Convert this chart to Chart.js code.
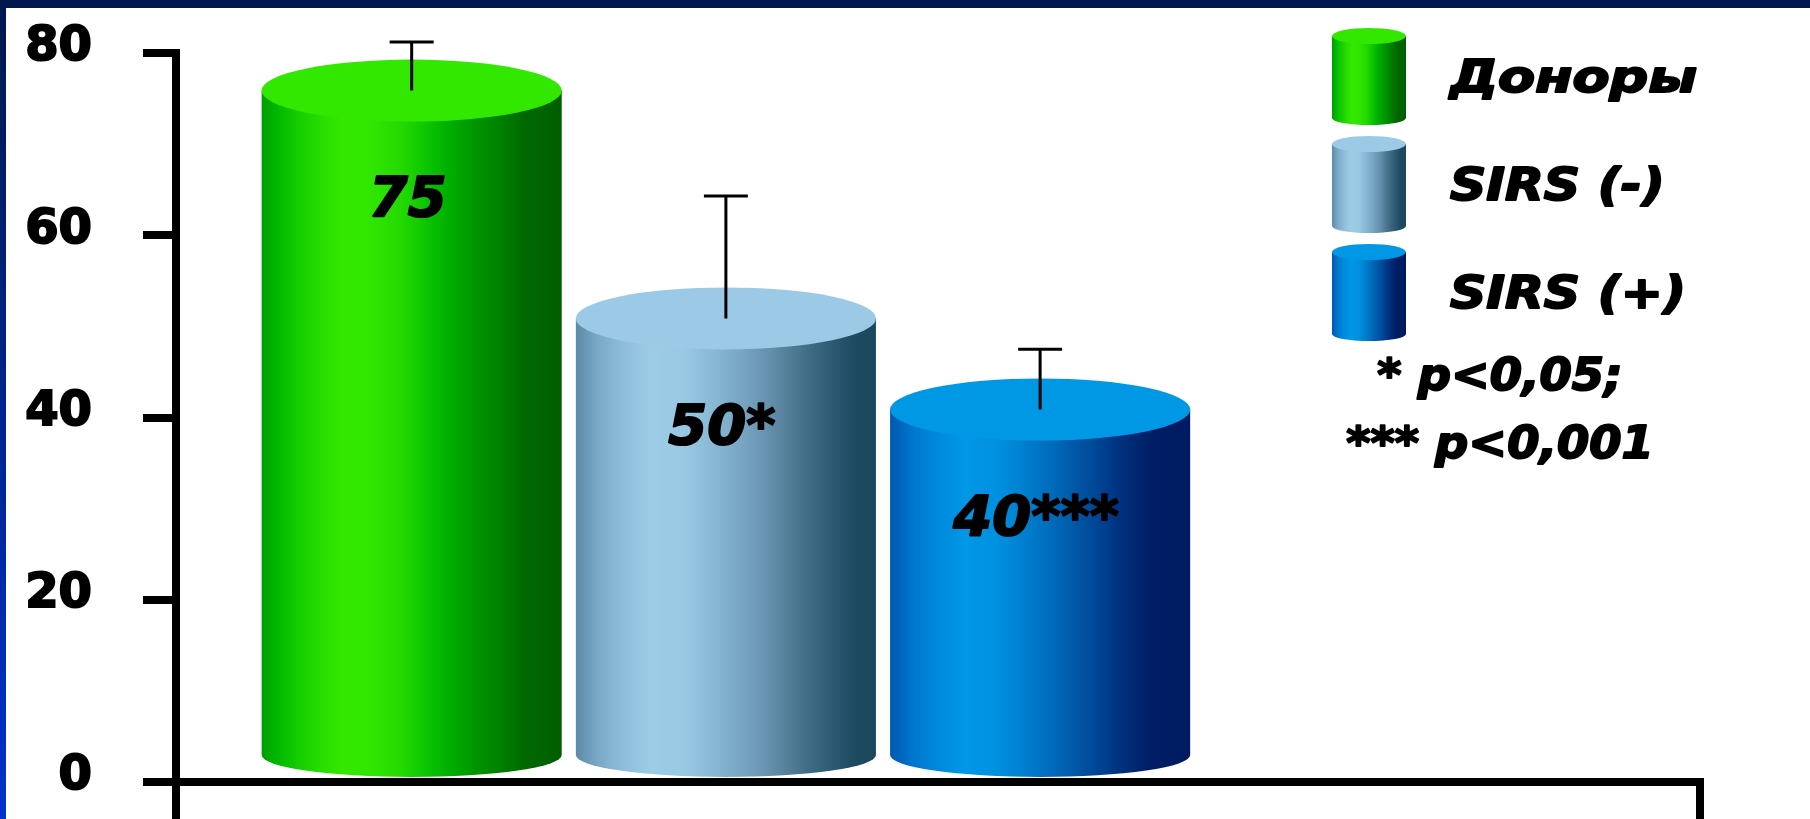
<!DOCTYPE html>
<html>
<head>
<meta charset="utf-8">
<script src="https://cdn.jsdelivr.net/npm/chart.js@4.4.0/dist/chart.umd.min.js"></script>
<style>
  html, body { margin: 0; padding: 0; background: #001a52; }
  body { width: 1810px; height: 819px; overflow: hidden; }
  #chart { display: block; }
</style>
</head>
<body>
<canvas id="chart" width="1810" height="819"></canvas>
<script>
const ctx = document.getElementById('chart').getContext('2d');

// groups and measured values
const groups = ['Доноры', 'SIRS (-)', 'SIRS (+)'];
const means = [75, 50, 40];
const errors = [6.2, 14.3, 7.5];
const valueLabels = ['75', '50*', '40***'];
const yTicks = [0, 20, 40, 60, 80];
const notes = ['* p<0,05;', '*** p<0,001'];

// side shading of each cylinder (left -> right) and colour of its lid
const sideStops = [
    [[0, '#009c00'], [0.05, '#00b800'], [0.12, '#14cc00'], [0.2, '#28de00'], [0.27, '#34e800'],
     [0.37, '#30e600'], [0.47, '#22d800'], [0.55, '#0cc400'], [0.62, '#00b000'], [0.7, '#009800'],
     [0.8, '#007e00'], [0.88, '#006800'], [1, '#005e00']],
    [[0, '#5a8aa8'], [0.07, '#78a8c6'], [0.15, '#8cbcd8'], [0.25, '#9ccce6'], [0.36, '#98c8e2'],
     [0.46, '#88b8d4'], [0.55, '#78a6c4'], [0.63, '#6894b0'], [0.71, '#527e98'], [0.79, '#3c6880'],
     [0.87, '#2a5670'], [0.93, '#1e4a60'], [1, '#1c485e']],
    [[0, '#0058b0'], [0.07, '#0074cc'], [0.15, '#0088dc'], [0.25, '#0098e6'], [0.36, '#0090e0'],
     [0.46, '#007ccc'], [0.55, '#0068b8'], [0.63, '#0054a4'], [0.71, '#004090'], [0.79, '#002c78'],
     [0.87, '#001e66'], [1, '#001a60']]
];
const lidColors = ['#33e800', '#9ccae6', '#0098e4'];

const textFont = 'italic bold 45px "DejaVu Sans"';

function drawCylinder(c, cx, w, yTop, yBot, rTop, rBot, stops, lid) {
    const left = cx - w / 2, right = cx + w / 2;
    const grad = c.createLinearGradient(left, 0, right, 0);
    stops.forEach(s => grad.addColorStop(s[0], s[1]));
    c.beginPath();
    c.moveTo(left, yTop);
    c.lineTo(left, yBot);
    c.ellipse(cx, yBot, w / 2, rBot, 0, Math.PI, 0, true);
    c.lineTo(right, yTop);
    c.closePath();
    c.fillStyle = grad;
    c.fill();
    c.beginPath();
    c.ellipse(cx, yTop, w / 2, rTop, 0, 0, Math.PI * 2);
    c.fillStyle = lid;
    c.fill();
}

// heavy (stroked) lettering, optionally stretched sideways
function heavyText(c, text, x, y, align, stretch) {
    c.save();
    c.translate(x, y);
    c.scale(stretch, 1);
    c.textAlign = align;
    c.fillStyle = '#000';
    c.strokeStyle = '#000';
    c.lineWidth = 2;
    c.lineJoin = 'round';
    c.fillText(text, 0, 0);
    c.strokeText(text, 0, 0);
    c.restore();
}

// navy slide background with the white panel
const slideBackground = {
    id: 'slideBackground',
    beforeDraw(chart) {
        const c = chart.ctx;
        const g = c.createLinearGradient(0, 0, 0, chart.height);
        g.addColorStop(0, '#00184e');
        g.addColorStop(1, '#0032cc');
        c.save();
        c.fillStyle = g;
        c.fillRect(0, 0, chart.width, chart.height);
        c.fillStyle = '#ffffff';
        c.fillRect(6, 8, chart.width - 6, chart.height - 8);
        c.restore();
    }
};

// 3D cylinders, error bars and value labels on top of the (invisible) bars
const cylinders = {
    id: 'cylinders',
    afterDatasetsDraw(chart) {
        const c = chart.ctx;
        const yScale = chart.scales.y;
        const meta = chart.getDatasetMeta(0);
        c.save();
        meta.data.forEach((bar, i) => {
            const yTop = bar.y - 8;
            const yBot = bar.base - 23;
            drawCylinder(c, bar.x, bar.width, yTop, yBot, 31, 22, sideStops[i], lidColors[i]);

            // error bar
            const yErr = yScale.getPixelForValue(means[i] + errors[i]);
            c.strokeStyle = '#000';
            c.lineWidth = 3;
            c.beginPath();
            c.moveTo(bar.x, yTop);
            c.lineTo(bar.x, yErr);
            c.moveTo(bar.x - 22, yErr);
            c.lineTo(bar.x + 22, yErr);
            c.stroke();

            // value
            c.font = 'italic bold 56px "DejaVu Sans"';
            c.textBaseline = 'middle';
            heavyText(c, valueLabels[i], bar.x - 4, bar.y + 103, 'center', 1);
        });
        c.restore();
    }
};

// axis frame below the baseline, legend and significance notes
const frameAndLegend = {
    id: 'frameAndLegend',
    afterDraw(chart) {
        const c = chart.ctx;
        const area = chart.chartArea;
        c.save();
        c.strokeStyle = '#000';
        c.lineWidth = 8;
        c.beginPath();
        c.moveTo(area.left, area.bottom);
        c.lineTo(area.left, chart.height);
        c.moveTo(area.right, area.bottom - 4);
        c.lineTo(area.right, chart.height);
        c.stroke();

        const legendX = 1332, legendY = 28, rowGap = 108, iconW = 74, iconH = 97;
        c.font = textFont;
        c.textBaseline = 'middle';
        groups.forEach((name, i) => {
            const top = legendY + i * rowGap;
            drawCylinder(c, legendX + iconW / 2, iconW, top + 8, top + iconH - 7, 8, 7, sideStops[i], lidColors[i]);
            heavyText(c, name, legendX + 118, top + 52, 'left', i === 0 ? 1.2 : 1.12);
        });

        notes.forEach((t, i) => {
            heavyText(c, t, 1500, 378 + i * 68, 'center', 1.03);
        });
        c.restore();
    }
};

const data = {
    datasets: [{
        label: 'M',
        data: means.map((v, i) => ({ x: i + 1, y: v })),
        backgroundColor: 'rgba(0,0,0,0)',
        borderWidth: 0,
        categoryPercentage: 1,
        barPercentage: 0.955
    }]
};

const config = {
    type: 'bar',
    data: data,
    options: {
        responsive: false,
        animation: false,
        layout: {
            padding: { top: 53, right: 110, bottom: 37, left: 0 }
        },
        plugins: {
            legend: { display: false },
            tooltip: { enabled: false }
        },
        scales: {
            x: {
                type: 'linear',
                min: 0.25,
                max: 5.1,
                offset: false,
                afterBuildTicks: (scale) => {
                    scale.ticks = means.map((v, i) => ({ value: i + 1 }));
                },
                grid: { display: false },
                ticks: { display: false },
                border: { display: true, color: '#000', width: 8 },
                afterFit: (scale) => {
                    scale.height = 0;
                    scale.paddingLeft = 0;
                    scale.paddingRight = 0;
                }
            },
            y: {
                min: 0,
                max: 80,
                afterBuildTicks: (scale) => {
                    scale.ticks = yTicks.map(v => ({ value: v }));
                },
                grid: {
                    drawOnChartArea: false,
                    drawTicks: true,
                    tickLength: 33,
                    lineWidth: 8,
                    color: '#000'
                },
                border: { display: true, color: '#000', width: 8 },
                ticks: {
                    color: '#000',
                    padding: 51,
                    labelOffset: -5,
                    textStrokeColor: '#000',
                    textStrokeWidth: 2,
                    font: { family: 'DejaVu Sans', weight: 'bold', size: 48 }
                },
                afterFit: (scale) => {
                    scale.width = 176;
                    scale.paddingTop = 0;
                    scale.paddingBottom = 0;
                }
            }
        }
    },
    plugins: [slideBackground, cylinders, frameAndLegend]
};

const myChart = new Chart(ctx, config);
</script>
</body>
</html>
